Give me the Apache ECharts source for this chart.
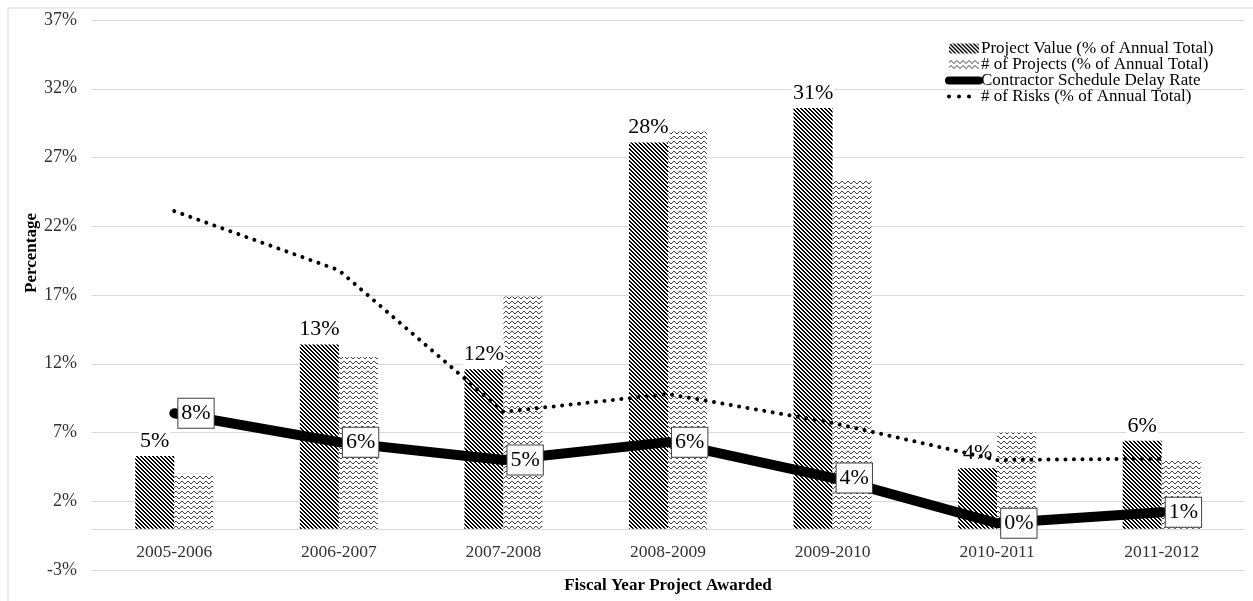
<!DOCTYPE html>
<html>
<head>
<meta charset="utf-8">
<script src="https://cdn.jsdelivr.net/npm/echarts@6/dist/echarts.min.js"></script>
<style>
  html, body { margin: 0; padding: 0; background: #fff; }
  #main { width: 1253px; height: 601px; }
</style>
</head>
<body>
<div id="main"></div>
<script>
// fiscal years on the x axis
const categories = ['2005-2006', '2006-2007', '2007-2008', '2008-2009', '2009-2010', '2010-2011', '2011-2012']
// percent values
const projectValue = [5.3, 13.4, 11.6, 28.1, 30.6, 4.4, 6.4]
const projectCount = [4.0, 12.5, 16.9, 28.9, 25.4, 7.0, 5.0]
const delayRate = [8.4, 6.3, 5.0, 6.3, 3.7, 0.4, 1.2]
const riskShare = [23.1, 18.8, 8.5, 9.8, 7.7, 5.0, 5.1]

const serif = '"Liberation Serif", "DejaVu Serif", serif'

// hatch fills like the printed chart
function stripes () {
  const c = document.createElement('canvas')
  c.width = 4; c.height = 4
  const ctx = c.getContext('2d')
  ctx.fillStyle = '#fff'
  ctx.fillRect(0, 0, 4, 4)
  ctx.fillStyle = '#000'
  for (let i = 0; i < 4; i++) {
    ctx.fillRect(i, i, 1, 1)
    ctx.fillRect((i + 1) % 4, i, 1, 1)
  }
  return c
}
function waves () {
  const c = document.createElement('canvas')
  c.width = 6; c.height = 5
  const ctx = c.getContext('2d')
  ctx.fillStyle = '#fff'
  ctx.fillRect(0, 0, 6, 5)
  ctx.fillStyle = '#444'
  const ys = [2, 1, 1, 2, 3, 3]
  ys.forEach((y, x) => ctx.fillRect(x, y, 1, 1))
  return c
}
const stripeFill = { image: stripes(), repeat: 'repeat' }
const waveFill = { image: waves(), repeat: 'repeat' }

const chart = echarts.init(document.getElementById('main'))

const boxLabel = {
  show: true,
  position: 'right',
  distance: 4,
  formatter: p => Math.round(p.value) + '%',
  fontFamily: serif,
  fontSize: 22,
  lineHeight: 24,
  color: '#000',
  backgroundColor: '#fff',
  borderColor: '#404040',
  borderWidth: 1,
  padding: [3, 3, 2, 3]
}

const option = {
  animation: false,
  backgroundColor: '#fff',
  graphic: [{
    type: 'rect',
    shape: { x: 8, y: 8, width: 1270, height: 620 },
    style: { fill: 'none', stroke: '#d9d9d9', lineWidth: 1 },
    silent: true
  }],
  grid: { left: 92, right: 9, top: 20, bottom: 31, containLabel: false, outerBoundsMode: 'none' },
  legend: {
    orient: 'vertical',
    left: 940,
    top: 35,
    itemWidth: 30,
    itemHeight: 10,
    itemGap: -1,
    textStyle: { fontFamily: serif, fontSize: 17, lineHeight: 15, color: '#000', padding: [0, 0, 0, -3] },
    data: [
      { name: 'Project Value (% of Annual Total)' },
      { name: '# of Projects (% of Annual Total)' },
      { name: 'Contractor Schedule Delay Rate', itemStyle: { opacity: 0 }, lineStyle: { width: 8, cap: 'round' } },
      { name: '# of Risks (% of Annual Total)', itemStyle: { opacity: 0 }, lineStyle: { width: 4, type: [0.01, 10], cap: 'round' } }
    ]
  },
  xAxis: {
    type: 'category',
    data: categories,
    name: 'Fiscal Year Project Awarded',
    nameLocation: 'middle',
    nameGap: 7,
    nameMoveOverlap: false,
    nameTextStyle: { fontFamily: serif, fontSize: 17, fontWeight: 'bold', color: '#000', verticalAlign: 'top' },
    axisLine: { onZero: true, lineStyle: { color: '#d9d9d9', width: 1 } },
    axisTick: { show: false },
    axisLabel: { fontFamily: serif, fontSize: 17.5, color: '#333', margin: -27 }
  },
  yAxis: {
    type: 'value',
    min: -3,
    max: 37,
    interval: 5,
    name: 'Percentage',
    nameLocation: 'middle',
    nameGap: 52,
    nameMoveOverlap: false,
    nameTextStyle: { fontFamily: serif, fontSize: 17, fontWeight: 'bold', color: '#000', padding: [0, 0, 0, 84] },
    axisLine: { show: false },
    axisTick: { show: false },
    axisLabel: { fontFamily: serif, fontSize: 18, color: '#333', margin: 15, formatter: v => v + '%' },
    splitLine: { lineStyle: { color: '#d9d9d9', width: 1 } }
  },
  series: [
    {
      name: 'Project Value (% of Annual Total)',
      type: 'bar',
      data: projectValue,
      barWidth: 39,
      barGap: '0%',
      itemStyle: { color: stripeFill },
      label: {
        show: true,
        position: 'top',
        distance: 4,
        formatter: p => Math.round(p.value) + '%',
        fontFamily: serif,
        fontSize: 22,
        color: '#000',
        backgroundColor: '#fff',
        padding: [0, 1]
      }
    },
    {
      name: '# of Projects (% of Annual Total)',
      type: 'bar',
      data: projectCount,
      barWidth: 39,
      barGap: '0%',
      itemStyle: { color: waveFill }
    },
    {
      name: 'Contractor Schedule Delay Rate',
      type: 'line',
      data: delayRate,
      symbol: 'circle',
      symbolSize: 0.1,
      itemStyle: { color: '#000' },
      lineStyle: { color: '#000', width: 10, cap: 'round', join: 'round' },
      label: boxLabel,
      z: 5
    },
    {
      name: '# of Risks (% of Annual Total)',
      type: 'line',
      data: riskShare,
      symbol: 'circle',
      symbolSize: 0.1,
      itemStyle: { color: '#000' },
      lineStyle: { color: '#000', width: 4, type: [0.01, 8.5], cap: 'round' },
      z: 4
    }
  ]
}

chart.setOption(option)
</script>
</body>
</html>
